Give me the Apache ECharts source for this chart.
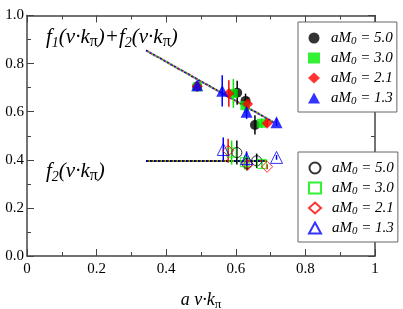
<!DOCTYPE html>
<html><head><meta charset="utf-8">
<script src="https://cdn.jsdelivr.net/npm/echarts@6/dist/echarts.min.js"></script>
<style>html,body{margin:0;padding:0;background:#fff}#c{width:403px;height:309px}</style>
</head><body><div id="c"></div>
<script>
// ---- data ----
const xTicks = [0, 0.2, 0.4, 0.6, 0.8, 1];
const yTicks = [0.0, 0.2, 0.4, 0.6, 0.8, 1.0];
const massLabels = ['5.0', '3.0', '2.1', '1.3'];
const colors = ['#000000', '#00ee00', '#ff0000', '#0000ff'];

// f1+f2 (filled markers): x, y, error
const sumX_50 = [0.489, 0.604, 0.628, 0.655];
const sumY_50 = [0.705, 0.679, 0.645, 0.545];
const sumE_50 = [0.010, 0.050, 0.030, 0.040];
const sumX_30 = [0.489, 0.593, 0.626, 0.674];
const sumY_30 = [0.703, 0.676, 0.625, 0.552];
const sumE_30 = [0.010, 0.060, 0.030, 0.020];
const sumX_21 = [0.489, 0.580, 0.634, 0.690];
const sumY_21 = [0.705, 0.676, 0.632, 0.552];
const sumE_21 = [0.010, 0.055, 0.030, 0.015];
const sumX_13 = [0.489, 0.561, 0.631, 0.717];
const sumY_13 = [0.710, 0.687, 0.600, 0.556];
const sumE_13 = [0.010, 0.065, 0.030, 0.015];

// f2 (open markers)
const f2X_50 = [0.603, 0.632, 0.660];
const f2Y_50 = [0.430, 0.385, 0.396];
const f2E_50 = [0.050, 0.030, 0.030];
const f2X_30 = [0.588, 0.626, 0.675];
const f2Y_30 = [0.430, 0.390, 0.383];
const f2E_30 = [0.050, 0.030, 0.020];
const f2X_21 = [0.578, 0.634, 0.690];
const f2Y_21 = [0.438, 0.380, 0.371];
const f2E_21 = [0.050, 0.020, 0.010];
const f2X_13 = [0.564, 0.631, 0.717];
const f2Y_13 = [0.443, 0.405, 0.410];
const f2E_13 = [0.050, 0.030, 0.010];

// fit lines
const fitSumX = [0.342, 0.710];
const fitSumY = [0.855, 0.555];
const fitF2X = [0.342, 0.690];
const fitF2Y = [0.395, 0.395];

// ---- build ----
const sumSets = [[sumX_50, sumY_50, sumE_50], [sumX_30, sumY_30, sumE_30], [sumX_21, sumY_21, sumE_21], [sumX_13, sumY_13, sumE_13]];
const f2Sets = [[f2X_50, f2Y_50, f2E_50], [f2X_30, f2Y_30, f2E_30], [f2X_21, f2Y_21, f2E_21], [f2X_13, f2Y_13, f2E_13]];
const symbols = ['circle', 'rect', 'diamond', 'triangle'];
const sizes = [10, 9, 11, 12];
const zip = (xs, ys) => xs.map((x, i) => [x, ys[i]]);
const zip3 = (xs, ys, es) => xs.map((x, i) => [x, ys[i], es[i]]);

const serif = 'Liberation Serif';
const series = [];

// fit lines (4 interleaved dotted colours)
for (let k = 0; k < 4; k++) {
  [[fitSumX, fitSumY], [fitF2X, fitF2Y]].forEach(([xs, ys]) => {
    series.push({
      type: 'line', data: zip(xs, ys), showSymbol: false, silent: true, z: 1,
      lineStyle: { color: colors[k], width: 2, type: [1, 3], dashOffset: k }
    });
  });
}

function errSeries(set, color) {
  return {
    type: 'custom', z: 3, silent: true,
    data: zip3(set[0], set[1], set[2]),
    renderItem: (params, api) => {
      const x = api.value(0), y = api.value(1), e = api.value(2);
      const p1 = api.coord([x, y - e]);
      const p2 = api.coord([x, y + e]);
      return { type: 'line', shape: { x1: p1[0], y1: p1[1], x2: p2[0], y2: p2[1] }, style: { stroke: color, lineWidth: 1.5 } };
    }
  };
}

for (let k = 0; k < 4; k++) {
  series.push(errSeries(sumSets[k], colors[k]));
  series.push(errSeries(f2Sets[k], colors[k]));
}
for (let k = 0; k < 4; k++) {
  series.push({
    name: 'u' + k, type: 'scatter', z: 4, data: zip(sumSets[k][0], sumSets[k][1]),
    symbol: symbols[k], symbolSize: sizes[k],
    itemStyle: { color: colors[k] }
  });
}
for (let k = 0; k < 4; k++) {
  series.push({
    name: 'l' + k, type: 'scatter', z: 4, data: zip(f2Sets[k][0], f2Sets[k][1]),
    symbol: symbols[k], symbolSize: sizes[k],
    itemStyle: { color: 'rgba(255,255,255,0)', borderColor: colors[k], borderWidth: 1 }
  });
}

const richLeg = {
  w: { width: 6, fontSize: 15, lineHeight: 18 },
  i: { fontFamily: serif, fontStyle: 'italic', fontSize: 15, color: '#000', lineHeight: 18 },
  s: { fontFamily: serif, fontStyle: 'italic', fontSize: 11, color: '#000', verticalAlign: 'bottom', lineHeight: 11, padding: [9, 0, 0, 0] }
};
function legFmt(name) {
  const k = +name.slice(1);
  return '{w| }{i|aM}{s|0}{i| = ' + massLabels[k] + '}';
}
function mkLegend(prefix, top) {
  return {
    orient: 'vertical', left: 298, top: top, data: [0, 1, 2, 3].map(k => prefix + k),
    itemWidth: 12, itemHeight: 11, itemGap: 0, padding: [5, 4, 5, 10],
    borderColor: '#666', borderWidth: 1, backgroundColor: '#fff',
    formatter: legFmt, textStyle: { rich: richLeg }, selectedMode: false
  };
}

const richLab = {
  i: { fontFamily: serif, fontStyle: 'italic', fontSize: 21, color: '#000', lineHeight: 25 },
  s: { fontFamily: serif, fontStyle: 'italic', fontSize: 14, color: '#000', verticalAlign: 'bottom', lineHeight: 14, padding: [13, 0, 0, 0] },
  g: { fontFamily: serif, fontSize: 16, color: '#000', verticalAlign: 'bottom', lineHeight: 16, padding: [12, 0, 0, 0] }
};
const richName = {
  i: { fontFamily: serif, fontStyle: 'italic', fontSize: 18, color: '#000', lineHeight: 22 },
  g: { fontFamily: serif, fontSize: 13, color: '#000', verticalAlign: 'bottom', lineHeight: 13, padding: [12, 0, 0, 0] }
};

const axisCommon = {
  min: 0, max: 1, interval: 0.2,
  axisLine: { show: true, onZero: false, lineStyle: { color: '#444', width: 1.5 } },
  axisTick: { show: true, inside: true, length: 7, lineStyle: { color: '#444' } },
  minorTick: { show: true, splitNumber: 2, length: 4, lineStyle: { color: '#444' } },
  splitLine: { show: false }
};

const option = {
  animation: false,
  grid: { left: 27, right: 28, top: 15.5, bottom: 53, containLabel: false, outerBoundsMode: 'none' },
  xAxis: [
    Object.assign({}, axisCommon, {
      type: 'value', position: 'bottom',
      axisLabel: { fontFamily: serif, fontSize: 15, color: '#000', margin: 6, formatter: v => String(+v.toFixed(1)) },
      name: '{i|a v·k}{g|π}', nameLocation: 'middle', nameGap: 33,
      nameTextStyle: { rich: richName }
    }),
    Object.assign({}, axisCommon, { type: 'value', position: 'top', axisLabel: { show: false } })
  ],
  yAxis: [
    Object.assign({}, axisCommon, {
      type: 'value', position: 'left',
      axisLabel: { fontFamily: serif, fontSize: 15, color: '#000', margin: 3, formatter: v => v.toFixed(1) }
    }),
    Object.assign({}, axisCommon, { type: 'value', position: 'right', axisLabel: { show: false } })
  ],
  legend: [mkLegend('u', 22), mkLegend('l', 152)],
  graphic: [
    { type: 'text', left: 46, top: 22, style: { text: '{i|f}{s|1}{i|(v·k}{g|π}{i|)+f}{s|2}{i|(v·k}{g|π}{i|)}', rich: richLab } },
    { type: 'text', left: 46, top: 156, style: { text: '{i|f}{s|2}{i|(v·k}{g|π}{i|)}', rich: richLab } }
  ],
  series: series
};
const chart = echarts.init(document.getElementById('c'));
chart.setOption(option);
</script>
</body></html>
